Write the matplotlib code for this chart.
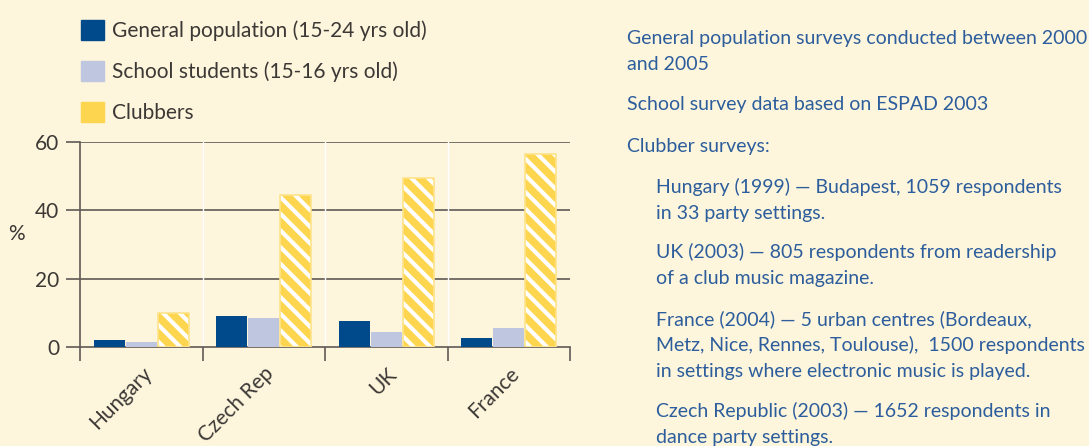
import matplotlib
matplotlib.use("Agg")
import matplotlib.pyplot as plt
import matplotlib.patches as mpatches
import numpy as np

# data
countries = ["Hungary", "Czech Rep", "UK", "France"]
general_pop = [2.0, 9.0, 7.5, 2.5]
school_students = [1.5, 8.5, 4.5, 5.5]
clubbers = [10.0, 44.5, 49.5, 56.5]
series_labels = ["General population (15-24 yrs old)",
                 "School students (15-16 yrs old)",
                 "Clubbers"]

notes = [
    (0, "General population surveys conducted between 2000\nand 2005"),
    (0, "School survey data based on ESPAD 2003"),
    (0, "Clubber surveys:"),
    (1, "Hungary (1999) \u2014 Budapest, 1059 respondents\nin 33 party settings."),
    (1, "UK (2003) \u2014 805 respondents from readership\nof a club music magazine."),
    (1, "France (2004) \u2014 5 urban centres (Bordeaux,\nMetz, Nice, Rennes, Toulouse),  1500 respondents\nin settings where electronic music is played."),
    (1, "Czech Republic (2003) \u2014 1652 respondents in\ndance party settings."),
]

bg = "#fdf5dc"
c_gen = "#004a8c"
c_school = "#bfc6e0"
c_club = "#fdd54f"
grey = "#5f5a55"
txt = "#3c3835"
blue_txt = "#2c5d9c"

plt.rcParams["font.family"] = ["Lato", "DejaVu Sans"]
plt.rcParams["hatch.linewidth"] = 3.0

fig = plt.figure(figsize=(10.89, 4.46), dpi=100, facecolor=bg)
W, H = 1089, 446
ax = fig.add_axes([80 / W, 1 - 347 / H, 490 / W, 205 / H])
ax.set_facecolor(bg)

x = np.arange(len(countries))
bw = 0.262
ax.bar(x - bw, general_pop, bw * 0.97, color=c_gen, zorder=3)
ax.bar(x, school_students, bw * 0.97, color=c_school, zorder=3)
ax.bar(x + bw, clubbers, bw * 0.97, color=c_club, edgecolor="white",
       linewidth=0, hatch="\\\\", zorder=3)
ax.bar(x + bw, clubbers, bw * 0.97, color="none", edgecolor="#fde38a",
       linewidth=1.2, zorder=4)

ax.set_xlim(-0.5, 3.5)
ax.set_ylim(0, 60)
ax.set_yticks([0, 20, 40, 60])
ax.set_xticks(np.arange(-0.5, 4, 1))
ax.set_xticklabels([])
ax.set_xticks(x, minor=True)
ax.set_xticklabels(countries, minor=True, rotation=45, ha="right",
                   rotation_mode="anchor", fontsize=15, color=txt)
ax.tick_params(axis="x", which="major", length=10, width=1.2, color=grey)
ax.tick_params(axis="x", which="minor", length=0, pad=12)
ax.tick_params(axis="y", length=10, width=1.2, color=grey, labelsize=15,
               labelcolor=txt, pad=5)

for y in [20, 40, 60]:
    ax.axhline(y, color=grey, lw=1.2, zorder=1)
for b in [0.5, 1.5, 2.5]:
    ax.axvline(b, color="white", lw=1, zorder=1)

for s in ["top", "right"]:
    ax.spines[s].set_visible(False)
for s in ["left", "bottom"]:
    ax.spines[s].set_color(grey)
    ax.spines[s].set_linewidth(1.2)

ax.set_ylabel("%", rotation=0, fontsize=15, color=txt)
ax.yaxis.set_label_coords(-0.13, 0.5)

handles = [mpatches.Patch(color=c_gen), mpatches.Patch(color=c_school),
           mpatches.Patch(color=c_club)]
leg = fig.legend(handles, series_labels, loc="upper left",
                 bbox_to_anchor=(62 / W, 1 - 1 / H), frameon=False,
                 fontsize=15, handlelength=1.1, handleheight=1.1,
                 labelspacing=0.95, handletextpad=0.4)
for t in leg.get_texts():
    t.set_color(txt)

# one text per line, baseline in pixels from the top
baselines = [44, 110, 152, 193, 258, 325, 417]
for (indent, s), yy in zip(notes, baselines):
    for i, line in enumerate(s.split("\n")):
        fig.text((627 + indent * 29) / W, 1 - (yy + 26 * i) / H, line,
                 fontsize=14, color=blue_txt, va="baseline")

fig.savefig("out.png", dpi=100, facecolor=bg)
